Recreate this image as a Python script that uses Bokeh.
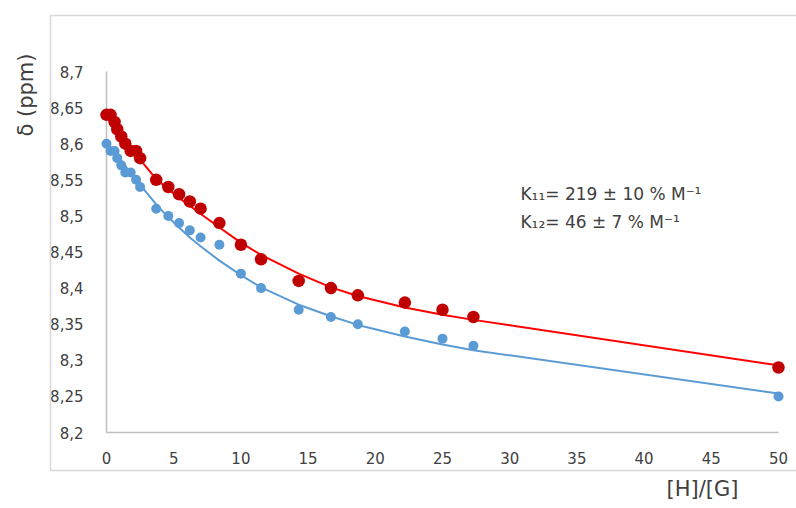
from bokeh.plotting import figure
from bokeh.models import Range1d, FixedTicker, Label, Title
from bokeh.embed import file_html
from bokeh.resources import INLINE

# ---- data ----
x_vals = [0, 0.3, 0.6, 0.8, 1.1, 1.4, 1.8, 2.2, 2.5, 3.7, 4.6, 5.4, 6.2, 7.0,
          8.4, 10.0, 11.5, 14.3, 16.7, 18.7, 22.2, 25.0, 27.3, 50.0]
red_obs = [8.64, 8.64, 8.63, 8.62, 8.61, 8.60, 8.59, 8.59, 8.58, 8.55, 8.54, 8.53,
           8.52, 8.51, 8.49, 8.46, 8.44, 8.41, 8.40, 8.39, 8.38, 8.37, 8.36, 8.29]
blue_obs = [8.60, 8.59, 8.59, 8.58, 8.57, 8.56, 8.56, 8.55, 8.54, 8.51, 8.50, 8.49,
            8.48, 8.47, 8.46, 8.42, 8.40, 8.37, 8.36, 8.35, 8.34, 8.33, 8.32, 8.25]
red_fit = [8.643, 8.636, 8.628, 8.623, 8.615, 8.607, 8.597, 8.586, 8.578, 8.551,
           8.537, 8.525, 8.514, 8.503, 8.484, 8.463, 8.446, 8.420, 8.401, 8.389,
           8.373, 8.363, 8.356, 8.293]
blue_fit = [8.600, 8.594, 8.588, 8.583, 8.576, 8.569, 8.560, 8.550, 8.543, 8.516,
            8.498, 8.484, 8.470, 8.458, 8.438, 8.418, 8.401, 8.377, 8.361, 8.349,
            8.333, 8.322, 8.314, 8.254]

x_ticks = [0, 5, 10, 15, 20, 25, 30, 35, 40, 45, 50]
y_ticks = [8.2, 8.25, 8.3, 8.35, 8.4, 8.45, 8.5, 8.55, 8.6, 8.65, 8.7]
y_tick_labels = ["8,2", "8,25", "8,3", "8,35", "8,4", "8,45", "8,5", "8,55", "8,6", "8,65", "8,7"]

annot_lines = ["K\u2081\u2081= 219 \u00b1 10 % M\u207b\u00b9",
               "K\u2081\u2082= 46 \u00b1 7 % M\u207b\u00b9"]
x_title = "[H]/[G]"
y_title = "\u03b4 (ppm)"

FONT = "DejaVu Sans"
AXIS_GRAY = "#BFBFBF"
TEXT_COLOR = "#404040"

X0, X1, Y0, Y1 = 0, 50, 8.2, 8.7
W, H = 796, 508
BL, BR, BT, BB = 106, 18, 71, 76          # borders around the plot frame

p = figure(width=W, height=H, output_backend="svg", toolbar_location=None,
           x_range=Range1d(X0, X1), y_range=Range1d(Y0, Y1),
           min_border_left=BL, min_border_right=BR, min_border_top=BT,
           min_border_bottom=BB)
p.outline_line_color = None
p.grid.visible = False
p.background_fill_color = "white"
p.border_fill_color = "white"

for ax in (p.xaxis[0], p.yaxis[0]):
    ax.axis_line_color = AXIS_GRAY
    ax.axis_line_width = 1.5
    ax.major_tick_line_color = None
    ax.minor_tick_line_color = None
    ax.major_label_text_font = FONT
    ax.major_label_text_font_size = "15px"
    ax.major_label_text_color = TEXT_COLOR

p.xaxis.ticker = FixedTicker(ticks=x_ticks)
p.yaxis.ticker = FixedTicker(ticks=y_ticks)
p.yaxis.major_label_overrides = dict(zip(y_ticks, y_tick_labels))
p.xaxis.major_label_standoff = 13
p.yaxis.major_label_standoff = 17

# pixel -> data helpers for the outer chart-area border
fw, fh = W - BL - BR, H - BT - BB
def px2x(px):
    return X0 + (px - BL) / fw * (X1 - X0)
def py2y(py):
    return Y1 - (py - BT) / fh * (Y1 - Y0)

p.quad(left=[px2x(50)], right=[px2x(830)], top=[py2y(15)], bottom=[py2y(470)],
       fill_color=None, line_color="#D9D9D9", line_width=1.5, level="overlay")

p.line(x_vals, blue_fit, line_color="#5B9BD5", line_width=2, line_join="round")
p.line(x_vals, red_fit, line_color="#FF0000", line_width=2, line_join="round")
b = p.scatter(x_vals, blue_obs, size=10, fill_color="#5B9BD5", line_color=None)
r = p.scatter(x_vals, red_obs, size=12.5, fill_color="#C00000", line_color=None)
b.level = "overlay"
r.level = "overlay"

for i, t in enumerate(annot_lines):
    p.add_layout(Label(x=30.8, y=8.531 - i * 0.04, text=t, text_font=FONT,
                       text_font_size="17px", text_color=TEXT_COLOR,
                       text_baseline="middle", text_align="left"))

p.add_layout(Title(text=x_title, align="right", offset=40, standoff=16,
                   text_font=FONT, text_font_size="21px", text_color=TEXT_COLOR,
                   text_font_style="normal"), "below")
p.add_layout(Title(text=y_title, align="right", offset=-18, standoff=20,
                   text_font=FONT, text_font_size="21px", text_color=TEXT_COLOR,
                   text_font_style="normal"), "left")

open("out.html", "w").write(file_html(p, INLINE))
